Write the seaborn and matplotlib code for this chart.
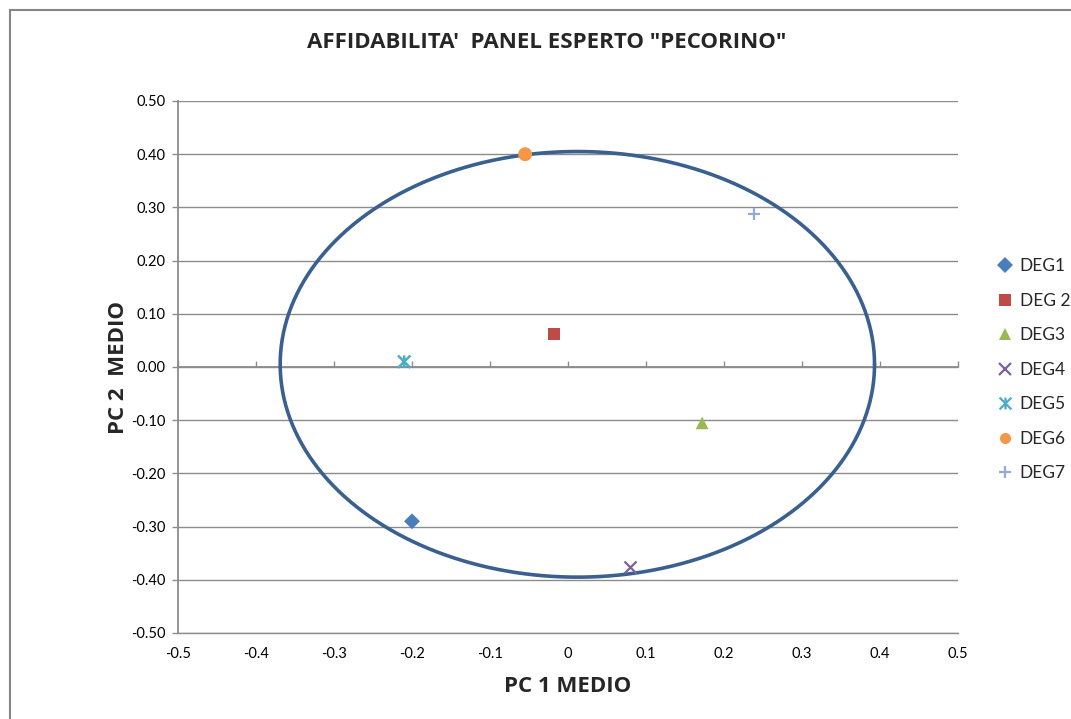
import numpy as np
import pandas as pd
import matplotlib
matplotlib.use("Agg")
import matplotlib.pyplot as plt
from matplotlib.path import Path
from matplotlib.patches import Rectangle
from matplotlib.lines import Line2D
import seaborn as sns

# Panel members and their mean scores on the first two principal components
judges = ["DEG1", "DEG 2", "DEG3", "DEG4", "DEG5", "DEG6", "DEG7"]
pc1 = [-0.200, -0.018, 0.172, 0.080, -0.210, -0.055, 0.238]
pc2 = [-0.290, 0.062, -0.105, -0.375, 0.010, 0.400, 0.288]

# Reference ellipse (centre and half-axes in PC units)
ellipse_center = (0.012, 0.005)
ellipse_radii = (0.381, 0.400)

x_ticks = [-0.5, -0.4, -0.3, -0.2, -0.1, 0.0, 0.1, 0.2, 0.3, 0.4, 0.5]
y_ticks = [-0.5, -0.4, -0.3, -0.2, -0.1, 0.0, 0.1, 0.2, 0.3, 0.4, 0.5]

colors = ["#4A7EBB", "#BE4B48", "#98B954", "#7D60A0", "#4BACC6", "#F79646", "#95A9D8"]

# "star" marker: an X crossed by a vertical stroke
star = Path(
    [(-1, -1), (1, 1), (-1, 1), (1, -1), (0, 1), (0, -1)],
    [Path.MOVETO, Path.LINETO, Path.MOVETO, Path.LINETO, Path.MOVETO, Path.LINETO],
)
markers = ["D", "s", "^", "x", star, "o", "+"]
sizes = [65, 85, 85, 75, 80, 100, 85]
# 0 = solid shape, 1 = line-art marker, 2 = line-art drawn from a path
kinds = [0, 0, 0, 1, 2, 0, 1]

sns.set_theme(style="white")
plt.rcParams["font.family"] = ["Lato", "DejaVu Sans"]
bold_font = ["Open Sans", "DejaVu Sans"]

fig = plt.figure(figsize=(10.71, 7.19), dpi=100)
ax = fig.add_axes([178 / 1071, 1 - 633 / 719, 780 / 1071, 532 / 719])

grid_c = "#8C8C8C"

# Ellipse outline
t = np.linspace(0, 2 * np.pi, 400)
ell = pd.DataFrame({
    "x": ellipse_center[0] + ellipse_radii[0] * np.cos(t),
    "y": ellipse_center[1] + ellipse_radii[1] * np.sin(t),
})
sns.lineplot(data=ell, x="x", y="y", sort=False, estimator=None, ax=ax,
             color="#3A6090", linewidth=2.6, zorder=3)

handles = []
for name, x, y, m, c, s, k in zip(judges, pc1, pc2, markers, colors, sizes, kinds):
    if k == 0:
        sns.scatterplot(x=[x], y=[y], marker=m, s=s, color=c, edgecolor="none",
                        ax=ax, zorder=5)
    elif k == 1:
        sns.scatterplot(x=[x], y=[y], marker=m, s=s, color=c, linewidth=1.6,
                        ax=ax, zorder=5)
    else:
        sns.scatterplot(x=[x], y=[y], marker=m, s=s, color=c, edgecolor=c,
                        facecolor="none", linewidth=1.8, ax=ax, zorder=5)
    handles.append(Line2D([], [], linestyle="none", marker=m, color=c,
                          markersize=8 if k == 0 else 8.5,
                          markeredgewidth=0 if k == 0 else 1.6,
                          markerfacecolor=c if k == 0 else "none",
                          markeredgecolor=c, label=name))

ax.set_xlim(-0.5, 0.5)
ax.set_ylim(-0.5, 0.5)
ax.set_xticks(x_ticks)
ax.set_yticks(y_ticks)
ax.set_xticklabels([f"{v:g}" if v != 0 else "0" for v in x_ticks])
ax.set_yticklabels([f"{v:.2f}" for v in y_ticks])

ax.yaxis.grid(True, color=grid_c, linewidth=1.0, zorder=0)
ax.xaxis.grid(False)
ax.set_axisbelow(True)

for side in ["top", "right"]:
    ax.spines[side].set_visible(False)
ax.spines["bottom"].set_color(grid_c)
ax.spines["bottom"].set_linewidth(1.0)
ax.spines["left"].set_color(grid_c)
ax.spines["left"].set_linewidth(1.3)

ax.tick_params(axis="y", which="major", direction="out", length=4, width=1.0,
               color=grid_c, pad=5, labelsize=10.5, labelcolor="#000000", left=True)
ax.tick_params(axis="x", which="major", length=0, pad=10, labelsize=10.5,
               labelcolor="#000000", bottom=True)

# horizontal axis line with tick marks crossing at PC2 = 0
sec = ax.secondary_xaxis(0.5)
sec.set_xticks(x_ticks)
sec.tick_params(axis="x", direction="out", length=4, width=1.0, color=grid_c,
                labelbottom=False, labeltop=False)
for sp in sec.spines.values():
    sp.set_color(grid_c)
    sp.set_linewidth(1.3)
sec.set_zorder(1)

ax.set_xlabel("")
ax.set_ylabel("")

fig.text(547 / 1071, 1 - 42 / 719, "AFFIDABILITA'  PANEL ESPERTO \"PECORINO\"",
         ha="center", va="center", fontsize=16, fontweight="bold", family=bold_font)
fig.text(568 / 1071, 1 - 687 / 719, "PC 1 MEDIO", ha="center", va="center",
         fontsize=16, fontweight="bold", family=bold_font)
fig.text(118 / 1071, 1 - 367 / 719, "PC 2  MEDIO", ha="center", va="center",
         rotation=90, fontsize=16, fontweight="bold", family=bold_font)

fig.legend(handles=handles, loc="upper left",
           bbox_to_anchor=(998 / 1071, 1 - 258 / 719), frameon=False,
           fontsize=12.5, handlelength=0.8, handletextpad=0.45, labelspacing=1.07,
           borderpad=0, borderaxespad=0)

# chart area border
fig.patches.append(Rectangle((10 / 1071, -0.1), 1.2, 1 - 10 / 719 + 0.1,
                             transform=fig.transFigure, fill=False,
                             edgecolor="#868686", linewidth=1.5))

fig.savefig("out.png", dpi=100)
